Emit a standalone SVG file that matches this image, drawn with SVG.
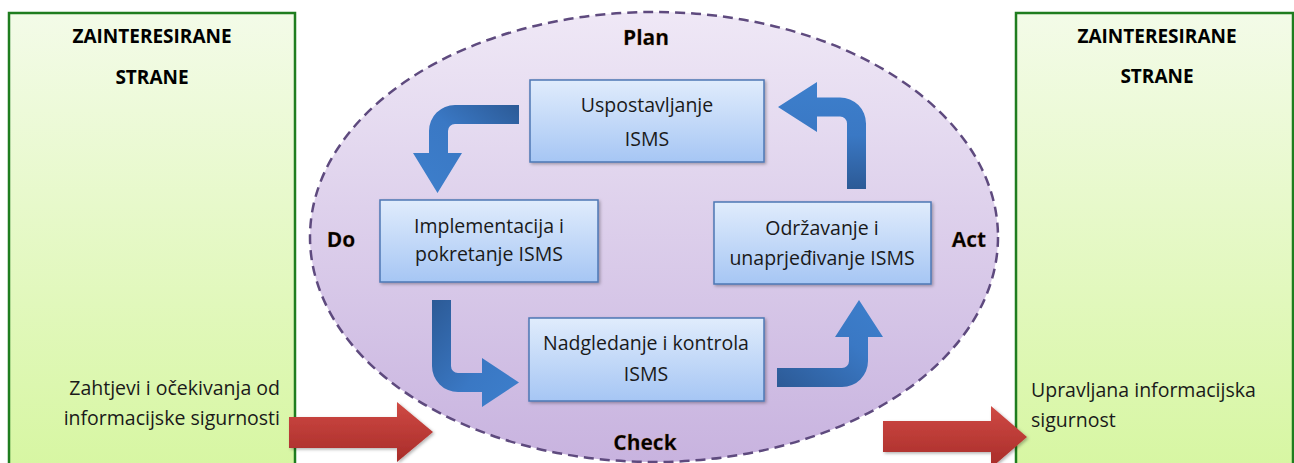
<svg xmlns="http://www.w3.org/2000/svg" width="1294" height="463" viewBox="0 0 1294 463">
<defs>
<linearGradient id="gGreen" x1="0" y1="0" x2="0" y2="1"><stop offset="0" stop-color="#f3fbe8"/><stop offset="1" stop-color="#d6f6a0"/></linearGradient>
<linearGradient id="gPurple" x1="0" y1="0" x2="0" y2="1"><stop offset="0" stop-color="#efe8f6"/><stop offset="1" stop-color="#c8b3df"/></linearGradient>
<linearGradient id="gBox" x1="0" y1="0" x2="0" y2="1"><stop offset="0" stop-color="#e0ecfc"/><stop offset="1" stop-color="#a6c6f4"/></linearGradient>
<linearGradient id="gRed" x1="0" y1="0" x2="0" y2="1"><stop offset="0" stop-color="#cf4a44"/><stop offset="1" stop-color="#a82c29"/></linearGradient>
<linearGradient id="gA1" x1="1" y1="0" x2="0" y2="1"><stop offset="0" stop-color="#2c5a96"/><stop offset="0.45" stop-color="#3a78c4"/><stop offset="1" stop-color="#3d7fcc"/></linearGradient>
<linearGradient id="gA2" x1="0" y1="0" x2="1" y2="1"><stop offset="0" stop-color="#2c5a96"/><stop offset="0.6" stop-color="#3a78c4"/><stop offset="1" stop-color="#3d7fcc"/></linearGradient>
<linearGradient id="gA3" x1="0" y1="1" x2="1" y2="0"><stop offset="0" stop-color="#2c5a96"/><stop offset="0.6" stop-color="#3a78c4"/><stop offset="1" stop-color="#3d7fcc"/></linearGradient>
<linearGradient id="gA4" x1="0" y1="1" x2="0" y2="0"><stop offset="0" stop-color="#2c5a96"/><stop offset="0.5" stop-color="#3a78c4"/><stop offset="1" stop-color="#3d7fcc"/></linearGradient>
<filter id="sh" x="-10%" y="-10%" width="130%" height="130%"><feDropShadow dx="1.5" dy="1.5" stdDeviation="1.5" flood-color="#000" flood-opacity="0.3"/></filter>
</defs>
<style>
.side{fill:url(#gGreen);stroke:#1f7d1f;stroke-width:2.5}
.ell{fill:url(#gPurple);stroke:#5e4a7e;stroke-width:2.5;stroke-dasharray:10 6}
.box{fill:url(#gBox);stroke:#4d77b4;stroke-width:1.5;filter:url(#sh)}
.t{font-family:"Open Sans","Liberation Sans",sans-serif;font-size:19.5px;fill:#1a1a1a;text-anchor:middle}
.b{font-family:"Open Sans","Liberation Sans",sans-serif;font-size:19px;font-weight:bold;fill:#000;text-anchor:middle}
.bl{font-family:"Open Sans","Liberation Sans",sans-serif;font-size:21px;font-weight:bold;fill:#000;text-anchor:middle;stroke:#c87a20;stroke-width:0.4;stroke-opacity:0.5}
.red{fill:url(#gRed);filter:url(#sh)}
</style>
<rect width="1294" height="463" fill="#ffffff"/>
<g id="left-party">
<rect class="side" x="9" y="13" width="286" height="470"/>
<text class="b" x="152" y="43">ZAINTERESIRANE</text>
<text class="b" x="152" y="84">STRANE</text>
<text class="t" x="280" y="395" style="text-anchor:end">Zahtjevi i očekivanja od</text>
<text class="t" x="280" y="425" style="text-anchor:end">informacijske sigurnosti</text>
</g>
<g id="right-party">
<rect class="side" x="1016" y="13" width="277" height="470"/>
<text class="b" x="1157" y="43">ZAINTERESIRANE</text>
<text class="b" x="1157" y="83">STRANE</text>
<text class="t" x="1031" y="397" style="text-anchor:start">Upravljana informacijska</text>
<text class="t" x="1031" y="427" style="text-anchor:start">sigurnost</text>
</g>
<g id="pdca-cycle">
<ellipse class="ell" cx="654" cy="237" rx="344" ry="225"/>
<text class="bl" x="646" y="45">Plan</text>
<text class="bl" x="341" y="247">Do</text>
<text class="bl" x="969" y="247">Act</text>
<text class="bl" x="645" y="450">Check</text>
</g>
<g id="plan">
<rect class="box" x="530" y="80" width="234" height="82"/>
<text class="t" x="647" y="112">Uspostavljanje</text>
<text class="t" x="647" y="146">ISMS</text>
</g>
<g id="do">
<rect class="box" x="380" y="200" width="218" height="82"/>
<text class="t" x="489" y="233">Implementacija i</text>
<text class="t" x="489" y="261">pokretanje ISMS</text>
</g>
<g id="check">
<rect class="box" x="529" y="318" width="235" height="83"/>
<text class="t" x="646" y="350">Nadgledanje i kontrola</text>
<text class="t" x="646" y="381">ISMS</text>
</g>
<g id="act">
<rect class="box" x="714" y="202" width="217" height="82"/>
<text class="t" x="822" y="235">Održavanje i</text>
<text class="t" x="822" y="265">unaprjeđivanje ISMS</text>
</g>
<g id="connectors">
<path fill="url(#gA1)" d="M519,105 L455,105 A26,26 0 0 0 429,131 L429,153 L413,153 L437.5,193 L462,153 L448,153 L448,131 A7,7 0 0 1 455,124 L519,124 Z"/>
<path fill="url(#gA2)" d="M432,300 L432,366 A26,26 0 0 0 458,392 L482,392 L482,407 L519,382.5 L482,358 L482,373 L458,373 A7,7 0 0 1 451,366 L451,300 Z"/>
<path fill="url(#gA3)" d="M777,368 L842,368 A7,7 0 0 0 849,361 L849,337 L835,337 L859,300 L883,337 L868,337 L868,361 A26,26 0 0 1 842,387 L777,387 Z"/>
<path fill="url(#gA4)" d="M847,189 L847,123.5 A7,7 0 0 0 840,116.5 L817,116.5 L817,132 L778,107 L817,82 L817,97.5 L840,97.5 A26,26 0 0 1 866,123.5 L866,189 Z"/>
<path class="red" d="M289,417 L397,417 L397,402 L433,432 L397,462 L397,448 L289,448 Z"/>
<path class="red" d="M883,421 L991,421 L991,406 L1027,437 L991,468 L991,452 L883,452 Z"/>
</g>
</svg>
